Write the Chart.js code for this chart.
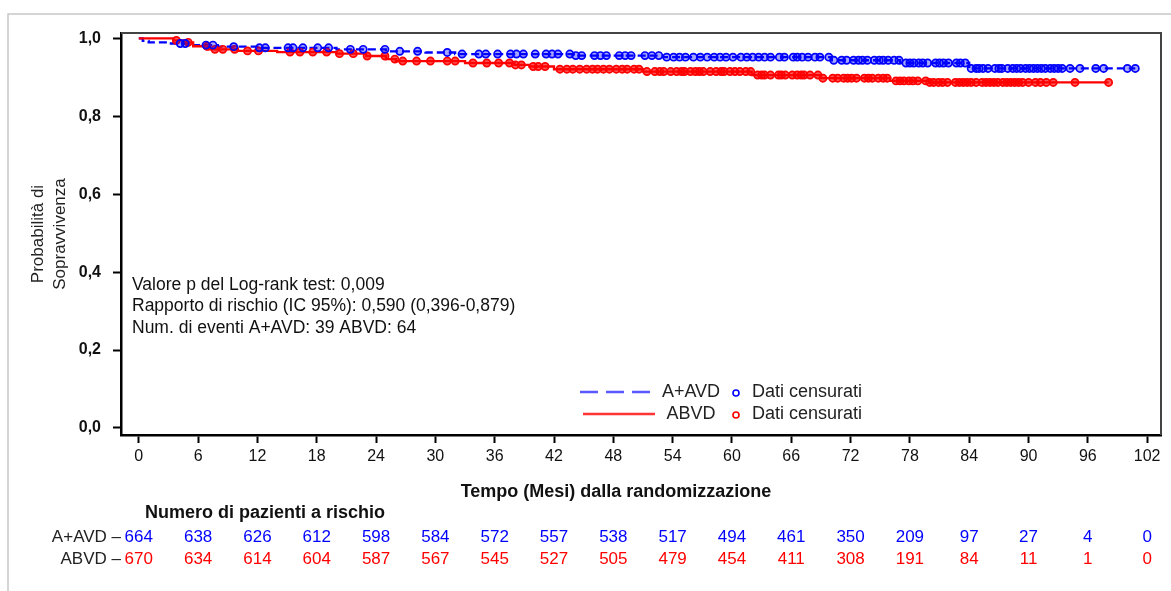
<!DOCTYPE html>
<html>
<head>
<meta charset="utf-8">
<script src="https://cdn.jsdelivr.net/npm/chart.js@4.4.1/dist/chart.umd.min.js"></script>
<style>
html,body{margin:0;padding:0;background:#fff;}
#wrap{width:1171px;height:591px;position:relative;}
canvas{display:block;}
</style>
</head>
<body>
<div id="wrap"><canvas id="c" width="1171" height="591"></canvas></div>
<script>
// ---------- DATA ----------
const monthTicks = [0, 6, 12, 18, 24, 30, 36, 42, 48, 54, 60, 66, 72, 78, 84, 90, 96, 102];
const survivalTicks = [0, 0.2, 0.4, 0.6, 0.8, 1.0];

const groupNames = ['A+AVD', 'ABVD'];
const atRiskAAVD = [664, 638, 626, 612, 598, 584, 572, 557, 538, 517, 494, 461, 350, 209, 97, 27, 4, 0];
const atRiskABVD = [670, 634, 614, 604, 587, 567, 545, 527, 505, 479, 454, 411, 308, 191, 84, 11, 1, 0];

// Kaplan-Meier step points (time in months, survival after the step)
const aavdEventTimes = [0, 0.4, 1, 3, 5, 8, 12, 20, 25, 29, 32, 44, 53, 70, 77, 84];
const aavdSurvival   = [1.0, 0.994, 0.990, 0.987, 0.983, 0.979, 0.976, 0.972, 0.967, 0.964, 0.960, 0.956, 0.952, 0.944, 0.937, 0.923];
const abvdEventTimes = [0, 3.5, 4.5, 5.5, 7, 10, 14, 20, 23, 25, 26, 33, 38, 39.5, 42, 51, 62, 69, 76, 80];
const abvdSurvival   = [1.0, 0.995, 0.990, 0.980, 0.972, 0.968, 0.965, 0.961, 0.955, 0.947, 0.942, 0.937, 0.932, 0.928, 0.921, 0.915, 0.906, 0.898, 0.891, 0.887];

// censored observation times (months)
const aavdCensored = [4.2, 4.7, 6.8, 7.5, 9.6, 12.2, 12.8, 15.1, 15.6, 16.6, 18.1, 19.2, 21.4, 22.7, 24.9, 26.4, 28.2, 31.2, 32.7, 34.4, 35.1, 36.3, 37.6, 38.2, 38.9, 40.1, 41.2, 41.8, 42.4, 43.6, 44.2, 44.8, 46.1, 46.7, 47.3, 48.6, 49.2, 49.8, 51.2, 51.9, 52.6, 53.4, 54.1, 54.7, 55.3, 56.1, 56.8, 57.5, 58.2, 58.8, 59.4, 60.1, 60.9, 61.5, 62.1, 62.7, 63.3, 63.9, 64.8, 65.3, 66.2, 66.6, 67.1, 67.7, 68.4, 68.9, 69.8, 70.3, 71.1, 71.6, 72.3, 72.8, 73.2, 73.7, 74.4, 74.9, 75.3, 75.8, 76.4, 76.9, 77.6, 78.0, 78.4, 78.9, 79.3, 79.8, 80.6, 81.0, 81.4, 81.9, 82.7, 83.1, 83.6, 84.2, 84.7, 85.0, 85.4, 85.9, 86.6, 87.0, 87.3, 87.9, 88.4, 88.8, 89.2, 89.7, 90.1, 90.5, 90.9, 91.3, 91.7, 92.2, 92.6, 93.0, 93.4, 94.2, 95.2, 96.8, 97.6, 100.0, 100.8];
const abvdCensored = [3.8, 5.0, 6.9, 7.7, 8.5, 9.7, 11.0, 12.1, 15.3, 16.3, 17.6, 19.0, 20.3, 21.7, 23.1, 24.9, 25.9, 26.7, 28.1, 29.5, 31.2, 32.0, 33.8, 35.2, 36.4, 37.5, 38.1, 38.7, 39.9, 40.4, 41.1, 42.6, 43.3, 43.9, 44.6, 45.3, 45.9, 46.4, 47.0, 47.6, 48.3, 48.9, 49.4, 50.1, 50.6, 51.4, 52.2, 52.7, 53.1, 53.8, 54.4, 54.9, 55.2, 55.8, 56.3, 56.7, 57.1, 57.8, 58.4, 58.9, 59.2, 59.8, 60.3, 60.8, 61.4, 61.9, 62.6, 63.0, 63.3, 63.9, 64.7, 65.0, 65.4, 66.1, 66.6, 67.0, 67.3, 67.9, 68.7, 69.2, 70.2, 70.7, 71.3, 71.7, 72.1, 72.6, 73.4, 73.8, 74.2, 74.8, 75.3, 75.7, 76.6, 77.0, 77.4, 77.9, 78.3, 78.8, 79.6, 80.0, 80.4, 80.9, 81.3, 81.8, 82.6, 83.0, 83.4, 83.8, 84.2, 84.7, 85.3, 85.7, 86.1, 86.5, 86.9, 87.4, 87.8, 88.2, 88.6, 89.0, 89.4, 90.0, 90.7, 91.2, 91.8, 92.5, 94.7, 98.1];

const annotationLines = [
  'Valore p del Log-rank test: 0,009',
  'Rapporto di rischio (IC 95%): 0,590 (0,396-0,879)',
  'Num. di eventi A+AVD: 39 ABVD: 64'
];
const xTitle = 'Tempo (Mesi) dalla randomizzazione';
const yTitle = ['Probabilità di', 'Sopravvivenza'];
const riskTitle = 'Numero di pazienti a rischio';
const censorLabel = 'Dati censurati';

// ---------- helpers ----------
const FONT = "'Liberation Sans', Arial, Helvetica, sans-serif";
Chart.defaults.font.family = FONT;
const BLUE = '#0000ff';
const RED = '#ff0000';

function stepValue(times, surv, t) {
  let s = surv[0];
  for (let i = 0; i < times.length; i++) if (times[i] <= t) s = surv[i];
  return s;
}
function kmLine(times, surv, censored) {
  const pts = times.map((t, i) => ({x: t, y: surv[i]}));
  const last = censored[censored.length - 1];
  pts.push({x: last, y: stepValue(times, surv, last)});
  return pts;
}
function censorPoints(times, surv, censored) {
  return censored.map(t => ({x: t, y: stepValue(times, surv, t)}));
}

const decoPlugin = {
  id: 'deco',
  beforeDraw(chart) {
    const ctx = chart.ctx;
    ctx.save();
    ctx.fillStyle = '#fff';
    ctx.fillRect(0, 0, chart.width, chart.height);
    ctx.strokeStyle = '#c8c8c8';
    ctx.lineWidth = 1.5;
    ctx.beginPath();
    ctx.moveTo(8, chart.height);
    ctx.lineTo(8, 14);
    ctx.lineTo(chart.width, 14);
    ctx.stroke();
    ctx.restore();
  },
  afterDraw(chart) {
    const ctx = chart.ctx;
    const a = chart.chartArea;
    const xs = chart.scales.x;
    ctx.save();
    // top / right frame
    ctx.strokeStyle = '#444';
    ctx.lineWidth = 2;
    ctx.beginPath();
    ctx.moveTo(a.left, a.top);
    ctx.lineTo(a.right, a.top);
    ctx.lineTo(a.right, a.bottom);
    ctx.stroke();

    // annotation
    ctx.fillStyle = '#111';
    ctx.font = '17.5px ' + FONT;
    ctx.textBaseline = 'middle';
    ctx.textAlign = 'left';
    annotationLines.forEach((s, i) => ctx.fillText(s, 132, 285 + i * 21.5));

    // legend
    const rows = [
      {y: 392, color: 'rgba(60,60,255,0.85)', dash: [18, 8], name: groupNames[0], c: BLUE, l0: 580, l1: 652},
      {y: 414, color: 'rgba(255,30,30,0.9)', dash: [], name: groupNames[1], c: RED, l0: 583, l1: 655}
    ];
    rows.forEach(r => {
      ctx.strokeStyle = r.color;
      ctx.lineWidth = 2.5;
      ctx.setLineDash(r.dash);
      ctx.beginPath();
      ctx.moveTo(r.l0, r.y);
      ctx.lineTo(r.l1, r.y);
      ctx.stroke();
      ctx.setLineDash([]);
      ctx.fillStyle = '#222';
      ctx.font = '18px ' + FONT;
      ctx.textAlign = 'center';
      ctx.fillText(r.name, 691, r.y);
      ctx.beginPath();
      ctx.arc(736, r.y + 1, 3, 0, Math.PI * 2);
      ctx.strokeStyle = r.c;
      ctx.lineWidth = 1.6;
      ctx.stroke();
      ctx.textAlign = 'left';
      ctx.fillStyle = '#222';
      ctx.fillText(censorLabel, 752, r.y);
    });

    // x axis title
    ctx.fillStyle = '#111';
    ctx.font = 'bold 18px ' + FONT;
    ctx.textAlign = 'center';
    ctx.fillText(xTitle, 616, 492);

    // risk table
    ctx.font = 'bold 18px ' + FONT;
    ctx.textAlign = 'left';
    ctx.fillText(riskTitle, 145, 513);
    const tbl = [{name: groupNames[0], vals: atRiskAAVD, c: BLUE, y: 537}, {name: groupNames[1], vals: atRiskABVD, c: RED, y: 559}];
    tbl.forEach(r => {
      ctx.font = '17px ' + FONT;
      ctx.textAlign = 'right';
      ctx.fillStyle = '#222';
      ctx.fillText(r.name + ' \u2013', 121, r.y);
      ctx.fillStyle = r.c;
      ctx.textAlign = 'center';
      r.vals.forEach((v, i) => ctx.fillText(String(v), xs.getPixelForValue(monthTicks[i]), r.y));
    });
    ctx.restore();
  }
};

new Chart(document.getElementById('c'), {
  type: 'line',
  data: {
    datasets: [
      {
        label: groupNames[0],
        data: kmLine(aavdEventTimes, aavdSurvival, aavdCensored),
        stepped: true,
        borderColor: BLUE,
        borderWidth: 2.3,
        borderDash: [8, 4],
        pointRadius: 0,
        fill: false,
        order: 2
      },
      {
        label: groupNames[1],
        data: kmLine(abvdEventTimes, abvdSurvival, abvdCensored),
        stepped: true,
        borderColor: RED,
        borderWidth: 2.3,
        pointRadius: 0,
        fill: false,
        order: 1
      },
      {
        label: groupNames[0] + ' ' + censorLabel,
        type: 'scatter',
        data: censorPoints(aavdEventTimes, aavdSurvival, aavdCensored),
        pointRadius: 3.6,
        pointBorderWidth: 1.7,
        borderColor: BLUE,
        backgroundColor: 'rgba(0,0,255,0.35)',
        showLine: false,
        order: 0
      },
      {
        label: groupNames[1] + ' ' + censorLabel,
        type: 'scatter',
        data: censorPoints(abvdEventTimes, abvdSurvival, abvdCensored),
        pointRadius: 3.6,
        pointBorderWidth: 1.7,
        borderColor: RED,
        backgroundColor: 'rgba(255,0,0,0.65)',
        showLine: false,
        order: 0
      }
    ]
  },
  options: {
    responsive: false,
    animation: false,
    devicePixelRatio: 1,
    clip: false,
    layout: {padding: {left: 0, top: 33, right: 10, bottom: 0}},
    plugins: {legend: {display: false}, tooltip: {enabled: false}},
    scales: {
      x: {
        type: 'linear',
        min: -1.8,
        max: 103.4,
        afterBuildTicks: s => { s.ticks = monthTicks.map(v => ({value: v})); },
        afterFit: s => { s.height = 156; },
        ticks: {color: '#111', font: {size: 16}, padding: 4, maxRotation: 0, autoSkip: false},
        grid: {drawOnChartArea: false, drawTicks: true, tickLength: 8, tickColor: '#000', tickWidth: 2},
        border: {display: true, color: '#000', width: 2.5}
      },
      y: {
        type: 'linear',
        min: -0.018,
        max: 1.014,
        afterBuildTicks: s => { s.ticks = survivalTicks.map(v => ({value: v})); },
        afterFit: s => { s.width = 121; },
        ticks: {
          color: '#111',
          font: {size: 16, weight: 'bold'},
          padding: 12,
          callback: v => v.toFixed(1).replace('.', ',')
        },
        grid: {drawOnChartArea: false, drawTicks: true, tickLength: 8, tickColor: '#000', tickWidth: 2},
        border: {display: true, color: '#000', width: 2.5},
        title: {
          display: true,
          text: yTitle,
          color: '#222',
          font: {size: 17, lineHeight: 22 / 17},
          padding: {top: 27, bottom: 0}
        }
      }
    }
  },
  plugins: [decoPlugin]
});
</script>
</body>
</html>
